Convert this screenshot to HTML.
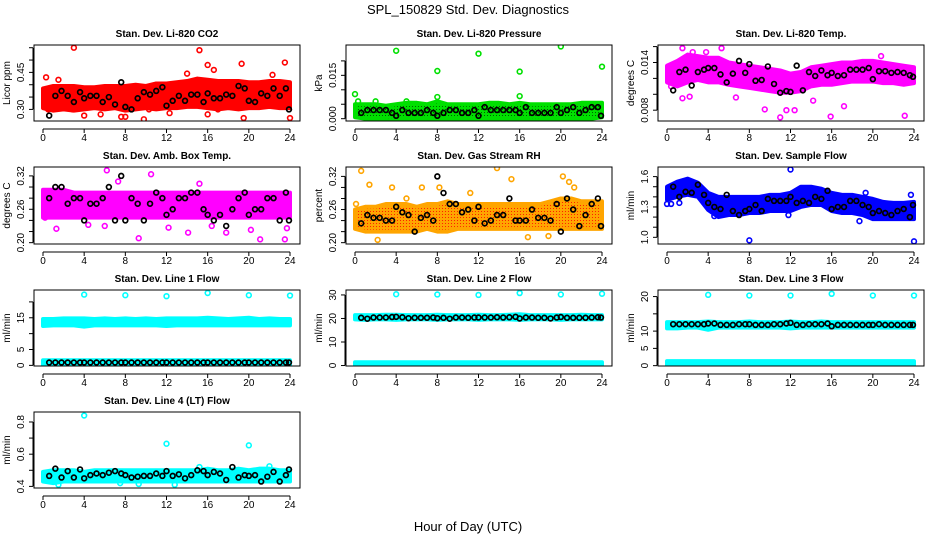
<!DOCTYPE html>
<html><head><meta charset="utf-8"><style>
html,body{margin:0;padding:0;background:#fff;}
svg{display:block;font-family:"Liberation Sans",Arial,sans-serif;}
</style></head><body>
<svg id="chart" width="936" height="540" viewBox="0 0 936 540">
<defs>
<pattern id="pat-green" width="3" height="3" patternUnits="userSpaceOnUse"><rect width="3" height="3" fill="#00e000"/><rect x="1" y="1" width="1" height="1" fill="#006000"/></pattern>
<pattern id="pat-orange" width="3" height="3" patternUnits="userSpaceOnUse"><rect width="3" height="3" fill="#ffa500"/><rect x="1" y="1" width="1" height="1" fill="#ff2000"/></pattern>
</defs>
<rect x="0" y="0" width="936" height="540" fill="#fff"/>
<text x="468" y="14" text-anchor="middle" font-size="13">SPL_150829  Std. Dev. Diagnostics</text>
<text x="468" y="531" text-anchor="middle" font-size="13">Hour of Day (UTC)</text>
</svg>
<script>
const hourTicks = [0,4,8,12,16,20,24];
const bandHours = [0,1,2,3,4,5,6,7,8,9,10,11,12,13,14,15,16,17,18,19,20,21,22,23,24];
const blackHours = [0.6,1.2,1.8,2.4,3,3.6,4,4.6,5.2,5.8,6.4,7,7.6,8,8.6,9.2,9.8,10.4,11,11.6,12,12.6,13.2,13.8,14.4,15,15.6,16,16.6,17.2,17.8,18.4,19,19.6,20,20.6,21.2,21.8,22.4,23,23.6,23.9];

const co2Lo = [0.305,0.295,0.30,0.295,0.30,0.305,0.30,0.305,0.295,0.30,0.305,0.30,0.305,0.305,0.31,0.31,0.305,0.30,0.305,0.30,0.305,0.305,0.31,0.305,0.305];
const co2Hi = [0.385,0.395,0.395,0.395,0.39,0.39,0.395,0.395,0.395,0.40,0.395,0.405,0.405,0.41,0.415,0.425,0.42,0.415,0.415,0.415,0.41,0.41,0.415,0.415,0.41];
const co2OutX = [3,15.2,23.5,19.3,16,16.6,14,22.3,0.3,1.5,9.8,19.5,24,7.6,8,4,5.6,16,12.3,0.5,2.9,17,10.3];
const co2OutY = [0.55,0.54,0.49,0.485,0.48,0.46,0.445,0.44,0.43,0.42,0.26,0.265,0.265,0.27,0.27,0.275,0.28,0.28,0.285,0.30,0.30,0.30,0.30];
const co2Black = [0.275,0.355,0.375,0.355,0.33,0.37,0.345,0.355,0.355,0.33,0.35,0.32,0.41,0.31,0.30,0.345,0.37,0.36,0.375,0.39,0.315,0.335,0.355,0.335,0.36,0.36,0.33,0.365,0.345,0.345,0.36,0.355,0.395,0.385,0.335,0.33,0.365,0.355,0.385,0.355,0.385,0.30];

const presLo = [0.0005,0,0,-0.0005,-0.0005,0,-0.0005,0,-0.0005,0,0,0,-0.0005,0,0,0,0,-0.0005,-0.0005,0,0,0,0,0,0.0005];
const presHi = [0.005,0.005,0.005,0.0045,0.005,0.0055,0.0055,0.005,0.006,0.005,0.005,0.005,0.005,0.0055,0.0055,0.005,0.0055,0.005,0.005,0.005,0.005,0.005,0.0055,0.0055,0.0055];
const presOutX = [0,4,8,8,12,16,16,20,24,0.3,2,5];
const presOutY = [0.0085,0.0235,0.0165,0.0075,0.0225,0.0163,0.0078,0.025,0.018,0.006,0.006,0.006];
const presBlack = [0.002,0.003,0.003,0.003,0.003,0.002,0.001,0.003,0.002,0.002,0.002,0.003,0.002,0.001,0.002,0.003,0.003,0.002,0.002,0.003,0.001,0.004,0.003,0.003,0.003,0.003,0.003,0.002,0.004,0.002,0.002,0.002,0.002,0.004,0.002,0.003,0.004,0.002,0.003,0.004,0.004,0.001];

const tempLo = [0.0115,0.0110,0.0115,0.0118,0.0115,0.0115,0.0112,0.0110,0.0108,0.0106,0.0104,0.0102,0.0102,0.0104,0.0110,0.0112,0.0112,0.0114,0.0116,0.0116,0.0116,0.0114,0.0114,0.0112,0.0114];
const tempHi = [0.0136,0.0142,0.0150,0.0148,0.0146,0.0146,0.0140,0.0138,0.0136,0.0134,0.0132,0.0130,0.0126,0.0128,0.0134,0.0136,0.0138,0.0140,0.0140,0.0142,0.0142,0.0140,0.0138,0.0136,0.0134];
const tempOutX = [1.5,5.3,2.5,3.8,1.5,2.2,9.5,11,11.6,12.4,15.9,23.1,17.2,0.4,6.7,14.2,20.8];
const tempOutY = [0.0158,0.0158,0.0153,0.0153,0.0095,0.0097,0.0081,0.0071,0.0080,0.0080,0.0072,0.0073,0.0085,0.0110,0.0096,0.0092,0.0148];
const tempBlack = [0.0105,0.0128,0.0131,0.0111,0.0128,0.0131,0.0133,0.0133,0.0125,0.0115,0.0126,0.0142,0.0127,0.0138,0.0117,0.0118,0.0135,0.0113,0.0102,0.0104,0.0103,0.0136,0.0105,0.0128,0.0123,0.0130,0.0124,0.0127,0.0123,0.0124,0.0131,0.0131,0.0131,0.0133,0.0119,0.0129,0.0129,0.0127,0.0128,0.0127,0.0124,0.0122];

const ambLo = [0.245,0.245,0.245,0.245,0.245,0.245,0.245,0.245,0.245,0.245,0.245,0.245,0.245,0.245,0.245,0.245,0.245,0.245,0.245,0.245,0.245,0.245,0.245,0.245,0.245];
const ambHi = [0.295,0.295,0.295,0.29,0.29,0.29,0.29,0.29,0.29,0.29,0.29,0.29,0.29,0.29,0.29,0.29,0.29,0.29,0.29,0.29,0.29,0.29,0.29,0.29,0.29];
const ambOutX = [6.2,10.5,1.3,4.4,12.2,14.1,17.8,20.2,21.1,23.5,23.7,0.2,6,9.3,16.4,7.3,15.2];
const ambOutY = [0.33,0.323,0.225,0.232,0.227,0.218,0.218,0.223,0.206,0.206,0.226,0.245,0.23,0.208,0.23,0.31,0.306];
const ambBlack = [0.28,0.30,0.30,0.27,0.28,0.28,0.24,0.27,0.27,0.28,0.30,0.24,0.32,0.24,0.28,0.27,0.24,0.27,0.29,0.28,0.25,0.26,0.28,0.28,0.29,0.29,0.26,0.25,0.24,0.25,0.23,0.26,0.28,0.29,0.25,0.26,0.26,0.28,0.28,0.24,0.29,0.24];

const rhLo = [0.225,0.22,0.22,0.22,0.22,0.22,0.22,0.225,0.22,0.22,0.225,0.225,0.225,0.225,0.225,0.225,0.225,0.225,0.225,0.225,0.225,0.225,0.225,0.225,0.225];
const rhHi = [0.26,0.265,0.265,0.27,0.27,0.27,0.265,0.27,0.27,0.275,0.27,0.27,0.27,0.27,0.27,0.27,0.27,0.27,0.27,0.275,0.28,0.28,0.275,0.275,0.275];
const rhOutX = [0.6,1.4,2.2,3.6,13.8,15.2,20.2,20.8,21.3,6.5,11.2,16.8,18.8,0.1,5,8.2];
const rhOutY = [0.33,0.305,0.205,0.30,0.335,0.315,0.32,0.31,0.30,0.30,0.29,0.21,0.212,0.27,0.28,0.30];
const rhBlack = [0.235,0.25,0.245,0.245,0.24,0.24,0.265,0.255,0.25,0.22,0.245,0.25,0.24,0.32,0.29,0.27,0.27,0.255,0.26,0.24,0.265,0.235,0.24,0.25,0.25,0.28,0.24,0.24,0.24,0.26,0.245,0.245,0.24,0.27,0.22,0.28,0.26,0.23,0.25,0.27,0.28,0.23];

const flowLo = [1.37,1.40,1.42,1.40,1.27,1.20,1.22,1.22,1.24,1.24,1.26,1.26,1.26,1.30,1.32,1.32,1.26,1.24,1.24,1.22,1.18,1.18,1.18,1.18,1.18];
const flowHi = [1.50,1.55,1.58,1.54,1.44,1.40,1.40,1.40,1.40,1.40,1.42,1.42,1.44,1.50,1.50,1.48,1.44,1.42,1.42,1.40,1.38,1.35,1.34,1.34,1.35];
const flowOutX = [8,12,24,0,0.4,1.2,23.7,4.6,11.8,18.7,19.3];
const flowOutY = [0.97,1.67,0.96,1.33,1.33,1.34,1.42,1.21,1.22,1.16,1.44];
const flowBlack = [1.50,1.40,1.45,1.44,1.52,1.42,1.34,1.30,1.28,1.42,1.26,1.22,1.26,1.28,1.32,1.26,1.38,1.36,1.36,1.36,1.40,1.34,1.36,1.34,1.40,1.38,1.46,1.28,1.30,1.30,1.36,1.36,1.32,1.30,1.24,1.26,1.24,1.22,1.26,1.28,1.20,1.32];

const l1Lo = [12.4,12.6,12.6,12.6,12.2,12.6,12.6,12.6,12.6,12.6,12.6,12.6,12.4,12.6,12.6,12.6,12.6,12.6,12.6,12.6,12.6,12.6,12.6,12.6,12.6];
const l1Hi = [14.6,14.6,14.8,14.8,14.8,14.6,14.8,14.6,14.8,14.6,14.8,14.6,14.8,14.8,14.8,14.8,15.0,14.8,14.6,14.8,15.0,14.6,14.8,14.6,14.6];
const l1BaseLo = [0.2,0.2,0.2,0.2,0.2,0.2,0.2,0.2,0.2,0.2,0.2,0.2,0.2,0.2,0.2,0.2,0.2,0.2,0.2,0.2,0.2,0.2,0.2,0.2,0.2];
const l1BaseHi = [1.6,1.6,1.6,1.6,1.6,1.6,1.6,1.6,1.6,1.6,1.6,1.6,1.6,1.6,1.6,1.6,1.6,1.6,1.6,1.6,1.6,1.6,1.6,1.6,1.6];
const l1OutX = [4,8,12,16,20,24];
const l1OutY = [22.3,22.1,21.8,22.8,22.1,22.0];
const l1Black = [0.9,0.9,0.9,0.9,0.9,0.9,0.9,0.9,0.9,0.9,0.9,0.9,0.9,0.9,0.9,0.9,0.9,0.9,0.9,0.9,0.9,0.9,0.9,0.9,0.9,0.9,0.9,0.9,0.9,0.9,0.9,0.9,0.9,0.9,0.9,0.9,0.9,0.9,0.9,0.9,0.9,0.9];

const l2Lo = [19.6,19.4,19.6,19.6,19.4,19.6,19.6,19.6,19.4,19.6,19.6,19.6,19.4,19.6,19.6,19.6,19.4,19.6,19.6,19.6,19.4,19.6,19.6,19.6,19.6];
const l2Hi = [21.4,21.4,21.4,21.6,21.6,21.4,21.4,21.4,21.6,21.4,21.4,21.4,21.6,21.4,21.4,21.6,21.8,21.4,21.4,21.4,21.4,21.4,21.6,21.4,21.4];
const l2BaseLo = [0.1,0.1,0.1,0.1,0.1,0.1,0.1,0.1,0.1,0.1,0.1,0.1,0.1,0.1,0.1,0.1,0.1,0.1,0.1,0.1,0.1,0.1,0.1,0.1,0.1];
const l2BaseHi = [1.4,1.4,1.4,1.4,1.4,1.4,1.4,1.4,1.4,1.4,1.4,1.4,1.4,1.4,1.4,1.4,1.4,1.4,1.4,1.4,1.4,1.4,1.4,1.4,1.4];
const l2OutX = [4,8,12,16,20,24];
const l2OutY = [30.3,30.2,30.0,30.8,30.2,30.5];
const l2Black = [20.3,19.9,20.4,20.4,20.4,20.6,20.7,20.5,20.1,20.3,20.3,20.3,20.4,20.1,20.3,19.9,20.4,20.4,20.3,20.4,20.4,20.4,20.4,20.5,20.4,20.5,20.7,20.0,20.4,20.4,20.3,20.3,20.0,20.4,20.6,20.3,20.3,20.3,20.3,20.4,20.5,20.4];

const l3Lo = [10.8,10.8,11.0,11.0,10.4,11.0,11.0,11.0,11.0,11.0,11.0,11.0,10.8,11.0,11.0,11.0,11.0,11.0,11.0,11.0,11.0,11.0,11.0,11.0,11.0];
const l3Hi = [12.6,12.6,12.6,12.6,12.8,12.6,12.6,12.6,12.8,12.6,12.6,12.6,12.8,12.6,12.6,12.8,12.6,12.6,12.6,12.6,12.6,12.6,12.6,12.6,12.6];
const l3BaseLo = [0.1,0.1,0.1,0.1,0.1,0.1,0.1,0.1,0.1,0.1,0.1,0.1,0.1,0.1,0.1,0.1,0.1,0.1,0.1,0.1,0.1,0.1,0.1,0.1,0.1];
const l3BaseHi = [1.3,1.3,1.3,1.3,1.3,1.3,1.3,1.3,1.3,1.3,1.3,1.3,1.3,1.3,1.3,1.3,1.3,1.3,1.3,1.3,1.3,1.3,1.3,1.3,1.3];
const l3OutX = [4,8,12,16,20,24];
const l3OutY = [20.5,20.3,20.3,20.8,20.3,20.3];
const l3Black = [12.0,12.0,12.0,12.0,12.0,12.0,12.2,12.2,11.8,11.8,11.8,12.0,12.0,12.0,11.8,11.8,11.8,12.0,12.0,12.2,12.4,11.8,11.8,12.0,12.0,12.0,12.2,11.4,11.8,11.8,11.8,11.8,11.8,11.8,11.8,12.0,11.8,11.8,11.8,11.8,11.8,11.8];

const l4Lo = [0.43,0.42,0.43,0.43,0.43,0.43,0.43,0.43,0.43,0.43,0.43,0.43,0.43,0.43,0.43,0.43,0.43,0.43,0.43,0.43,0.43,0.43,0.43,0.43,0.43];
const l4Hi = [0.49,0.50,0.50,0.50,0.49,0.50,0.50,0.50,0.50,0.50,0.50,0.50,0.50,0.50,0.50,0.50,0.51,0.50,0.50,0.51,0.50,0.51,0.51,0.50,0.50];
const l4OutX = [4,12,20,1.5,7.5,9.3,12.8,15.2,22];
const l4OutY = [0.84,0.665,0.655,0.41,0.42,0.415,0.41,0.52,0.525];
const l4Black = [0.465,0.51,0.455,0.495,0.455,0.505,0.45,0.47,0.48,0.47,0.485,0.495,0.48,0.47,0.455,0.46,0.465,0.465,0.48,0.465,0.495,0.465,0.475,0.45,0.47,0.50,0.495,0.47,0.49,0.48,0.44,0.52,0.455,0.47,0.465,0.47,0.43,0.46,0.49,0.43,0.47,0.505];

const panels = [
 {name:'co2',title:'Stan. Dev. Li-820 CO2',ylab:'Licor ppm',col:0,row:0,ymin:0.253,ymax:0.561,ticks:[0.30,0.35,0.40,0.45,0.50,0.55],labels:['0.30','','','0.45','',''],color:'#ff0000',fill:'#ff0000',bands:[[co2Lo,co2Hi]],ox:co2OutX,oy:co2OutY,black:co2Black},
 {name:'pressure',title:'Stan. Dev. Li-820 Pressure',ylab:'kPa',col:1,row:0,ymin:-0.0008,ymax:0.0255,ticks:[0,0.005,0.010,0.015,0.020],labels:['0.000','','','0.015',''],color:'#00e000',fill:'url(#pat-green)',bands:[[presLo,presHi]],ox:presOutX,oy:presOutY,black:presBlack},
 {name:'temp',title:'Stan. Dev. Li-820 Temp.',ylab:'degrees C',col:2,row:0,ymin:0.00664,ymax:0.0162,ticks:[0.008,0.010,0.012,0.014,0.016],labels:['0.008','','','0.014',''],color:'#ff00ff',fill:'#ff00ff',bands:[[tempLo,tempHi]],ox:tempOutX,oy:tempOutY,black:tempBlack},
 {name:'amb-box-temp',title:'Stan. Dev. Amb. Box Temp.',ylab:'degrees C',col:0,row:1,ymin:0.1976,ymax:0.336,ticks:[0.20,0.22,0.24,0.26,0.28,0.30,0.32],labels:['0.20','','','0.26','','','0.32'],color:'#ff00ff',fill:'#ff00ff',bands:[[ambLo,ambHi]],ox:ambOutX,oy:ambOutY,black:ambBlack},
 {name:'gas-stream-rh',title:'Stan. Dev. Gas Stream RH',ylab:'percent',col:1,row:1,ymin:0.1976,ymax:0.337,ticks:[0.20,0.22,0.24,0.26,0.28,0.30,0.32],labels:['0.20','','','0.26','','','0.32'],color:'#ffa500',fill:'url(#pat-orange)',bands:[[rhLo,rhHi]],ox:rhOutX,oy:rhOutY,black:rhBlack},
 {name:'sample-flow',title:'Stan. Dev. Sample Flow',ylab:'ml/min',col:2,row:1,ymin:0.934,ymax:1.695,ticks:[1.0,1.1,1.2,1.3,1.4,1.5,1.6],labels:['1.0','','','1.3','','','1.6'],color:'#0000ff',fill:'#0000ff',bands:[[flowLo,flowHi]],ox:flowOutX,oy:flowOutY,black:flowBlack},
 {name:'line1-flow',title:'Stan. Dev. Line 1 Flow',ylab:'ml/min',col:0,row:2,ymin:-0.2,ymax:23.75,ticks:[0,5,10,15,20],labels:['0','5','','15',''],color:'#00ffff',fill:'#00ffff',bands:[[l1Lo,l1Hi],[l1BaseLo,l1BaseHi]],ox:l1OutX,oy:l1OutY,black:l1Black},
 {name:'line2-flow',title:'Stan. Dev. Line 2 Flow',ylab:'ml/min',col:1,row:2,ymin:-0.2,ymax:32.1,ticks:[0,10,20,30],labels:['0','10','20','30'],color:'#00ffff',fill:'#00ffff',bands:[[l2Lo,l2Hi],[l2BaseLo,l2BaseHi]],ox:l2OutX,oy:l2OutY,black:l2Black},
 {name:'line3-flow',title:'Stan. Dev. Line 3 Flow',ylab:'ml/min',col:2,row:2,ymin:-0.1,ymax:21.9,ticks:[0,5,10,15,20],labels:['0','5','10','','20'],color:'#00ffff',fill:'#00ffff',bands:[[l3Lo,l3Hi],[l3BaseLo,l3BaseHi]],ox:l3OutX,oy:l3OutY,black:l3Black},
 {name:'line4-flow',title:'Stan. Dev. Line 4 (LT) Flow',ylab:'ml/min',col:0,row:3,ymin:0.39,ymax:0.862,ticks:[0.4,0.5,0.6,0.7,0.8],labels:['0.4','','0.6','','0.8'],color:'#00ffff',fill:'#00ffff',bands:[[l4Lo,l4Hi]],ox:l4OutX,oy:l4OutY,black:l4Black}
];
const colLeft = [34,346,658];
const rowTop = [45,167,290,412];
const rowBot = [121,244,366,488];
const NS = 'http://www.w3.org/2000/svg';
const svg = document.getElementById('chart');
function mk(tag, attrs, parent){const e=document.createElementNS(NS,tag);for(const k in attrs)e.setAttribute(k,attrs[k]);(parent||svg).appendChild(e);return e;}

panels.forEach(p=>{
  const L=colLeft[p.col], R=L+266, T=rowTop[p.row], B=rowBot[p.row];
  const g=mk('g',{});
  
  
  const xs=h=>L+9+h*(247/24);
  const ys=v=>B-(v-p.ymin)/(p.ymax-p.ymin)*(B-T);
  const clip=mk('clipPath',{id:'c-'+p.name},g);
  mk('rect',{x:L,y:T,width:266,height:B-T},clip);
  const data=mk('g',{'clip-path':'url(#c-'+p.name+')'},g);
  p.bands.forEach(([lo,hi])=>{
    let pts=[];
    bandHours.forEach((h,i)=>pts.push(xs(h)+','+ys(hi[i])));
    for(let i=bandHours.length-1;i>=0;i--)pts.push(xs(bandHours[i])+','+ys(lo[i]));
    const poly=mk('polygon',{points:pts.join(' '),fill:p.fill,stroke:p.color,'stroke-width':4,'stroke-linejoin':'round'},data);
    
    
  });
  p.ox.forEach((h,i)=>{
    const c=mk('circle',{cx:xs(h),cy:ys(p.oy[i]),r:2.4,fill:'none',stroke:p.color,'stroke-width':1.6},data);
    
    
  });
  p.black.forEach((v,i)=>{
    const c=mk('circle',{cx:xs(blackHours[i]),cy:ys(v),r:2.4,fill:'none',stroke:'#000','stroke-width':1.7},data);
    
    
  });
  const box=mk('rect',{x:L,y:T,width:266,height:B-T,fill:'none',stroke:'#000','stroke-width':1},g);
  
  
  const t=mk('text',{x:L+133,y:T-8,'text-anchor':'middle','font-size':10,'font-weight':'bold'},g);
  t.textContent=p.title;
  
  
  const ax=B+8;
  mk('line',{x1:xs(0),x2:xs(24),y1:ax,y2:ax,stroke:'#000','stroke-width':1},g);
  hourTicks.forEach(h=>{
    mk('line',{x1:xs(h),x2:xs(h),y1:ax,y2:ax+4,stroke:'#000','stroke-width':1},g);
    const tl=mk('text',{x:xs(h),y:B+20,'text-anchor':'middle','font-size':10},g);
    tl.textContent=h;
    
    
  });
  const yx=L-1;
  mk('line',{x1:yx,x2:yx,y1:ys(p.ticks[0]),y2:ys(p.ticks[p.ticks.length-1]),stroke:'#000','stroke-width':1},g);
  p.ticks.forEach((v,i)=>{
    const y=ys(v);
    mk('line',{x1:yx-4,x2:yx,y1:y,y2:y,stroke:'#000','stroke-width':1},g);
    if(p.labels[i]){
      const tl=mk('text',{x:L-10,y:y,'text-anchor':'middle','font-size':10,transform:'rotate(-90 '+(L-10)+' '+y+')'},g);
      tl.textContent=p.labels[i];
      
      
    }
  });
  const yt=mk('text',{x:L-24,y:(T+B)/2,'text-anchor':'middle','font-size':10,transform:'rotate(-90 '+(L-24)+' '+((T+B)/2)+')'},g);
  yt.textContent=p.ylab;
  
  
});
</script>
</body></html>
